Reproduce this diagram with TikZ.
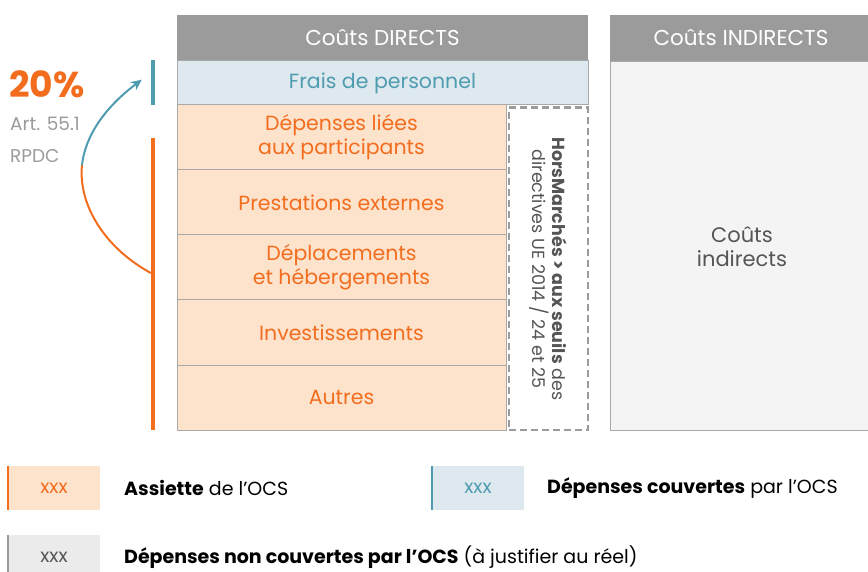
\documentclass[tikz,border=0pt]{standalone}
\usepackage{fontspec}
\setmainfont{Poppins}
\usetikzlibrary{positioning, arrows.meta}

\definecolor{ocsorange}{HTML}{F26D1E}
\definecolor{ocspeach}{HTML}{FDE2CC}
\definecolor{ocsteal}{HTML}{4F9CB0}
\definecolor{ocsblue}{HTML}{DDE8EF}
\definecolor{ocshead}{HTML}{9B9B9B}
\definecolor{ocsline}{HTML}{A8A8A8}
\definecolor{ocslight}{HTML}{F4F4F4}
\definecolor{ocsgrey}{HTML}{EBEBEB}
\definecolor{ocstext}{HTML}{555555}

\tikzset{
  head/.style={fill=ocshead, text=white, font=\fontsize{21.5}{24}\selectfont, minimum height=46pt, inner sep=0pt, outer sep=0pt},
  row/.style={draw=ocsline, fill=ocspeach, text=ocsorange, line width=1pt, minimum width=329pt, minimum height=65pt, inner sep=0pt, outer sep=0pt, align=center, font=\fontsize{20.5}{24}\selectfont},
  bar/.style={minimum width=4pt, inner sep=0pt},
  legbox/.style={minimum width=92pt, minimum height=44pt, inner sep=0pt, font=\fontsize{19}{22}\selectfont},
  legtext/.style={anchor=west, inner sep=0pt, font=\fontsize{19}{22}\selectfont},
}

\begin{document}
\begin{tikzpicture}[x=1pt, y=-1pt]
\useasboundingbox (0,0) rectangle (868,572);

\node[head, minimum width=411pt, anchor=north west] (hdir) at (177,15) {Coûts DIRECTS};
\node[head, minimum width=262pt, anchor=north west] (hind) at (610,15) {Coûts INDIRECTS};

\node[row, fill=ocsblue, text=ocsteal, minimum width=411pt, minimum height=44pt, below=0pt of hdir] (frais) {Frais de personnel};
\node[row, anchor=north west] (r1) at (frais.south west) {Dépenses liées\\aux participants};
\node[row, below=0pt of r1] (r2) {Prestations externes};
\node[row, below=0pt of r2] (r3) {Déplacements\\et hébergements};
\node[row, below=0pt of r3] (r4) {Investissements};
\node[row, below=0pt of r4] (r5) {Autres};

\node[draw=ocshead, dashed, dash pattern=on 7pt off 4pt, line width=2.5pt, fill=white, minimum width=79pt, minimum height=322pt, anchor=north west] (hors) at ([xshift=1.5pt,yshift=-1.5pt]r1.north east) {};
\node[rotate=-90, align=center, text=ocstext, font=\fontsize{17.5}{20}\selectfont] (horstxt) at (hors.center) {\textbf{HorsMarchés > aux seuils} des\\directives UE 2014 / 24 et 25};

\node[draw=ocsline, fill=ocslight, line width=1pt, minimum width=262pt, minimum height=369pt, anchor=north west, inner sep=0pt] (indir) at (hind.south west) {};
\node[align=center, text=ocstext, font=\fontsize{21}{24}\selectfont] (indirtxt) at (742,247) {Coûts\\indirects};

\node[bar, fill=ocsteal, minimum height=45pt, anchor=north] (tbar) at (153,60) {};
\node[bar, fill=ocsorange, minimum height=292pt, anchor=north] (obar) at (153,138) {};

\node[anchor=west, text=ocsorange, inner sep=0pt, font=\bfseries\fontsize{36}{40}\selectfont] (pct) at (9,84) {20\%};
\node[anchor=west, text=ocshead, inner sep=0pt, font=\fontsize{18.5}{20}\selectfont] (art) at (10,124) {Art. 55.1};
\node[anchor=west, text=ocshead, inner sep=0pt, font=\fontsize{18.5}{20}\selectfont] (rpdc) at (10,156) {RPDC};

\coordinate (from) at ([yshift=-135pt]obar.north west);
\coordinate (mid) at (82,165);
\draw[ocsorange, line width=2pt] (from) .. controls (105,248) and (78,205) .. (mid);
\draw[ocsteal, line width=2pt, -{Stealth[length=11pt, width=10pt]}] (mid) .. controls (86,130) and (112,102) .. ([xshift=-9pt, yshift=3pt]tbar.west);

\node[legbox, fill=ocspeach, text=ocsorange] (leg1) at (54,488) {xxx};
\draw[ocsorange, line width=2pt] (leg1.north west) -- (leg1.south west);
\node[legtext] (leg1txt) at (124,488) {\textbf{Assiette} de l’OCS};

\node[legbox, fill=ocsblue, text=ocsteal] (leg2) at (478,488) {xxx};
\draw[ocsteal, line width=2pt] (leg2.north west) -- (leg2.south west);
\node[legtext] (leg2txt) at (547,488) {\textbf{Dépenses couvertes} par l’OCS};

\node[legbox, fill=ocsgrey, text=ocstext] (leg3) at (54,557) {xxx};
\draw[ocshead, line width=2pt] (leg3.north west) -- (leg3.south west);
\node[legtext] (leg3txt) at (124,557) {\textbf{Dépenses non couvertes par l’OCS} (à justifier au réel)};
\end{tikzpicture}
\end{document}
